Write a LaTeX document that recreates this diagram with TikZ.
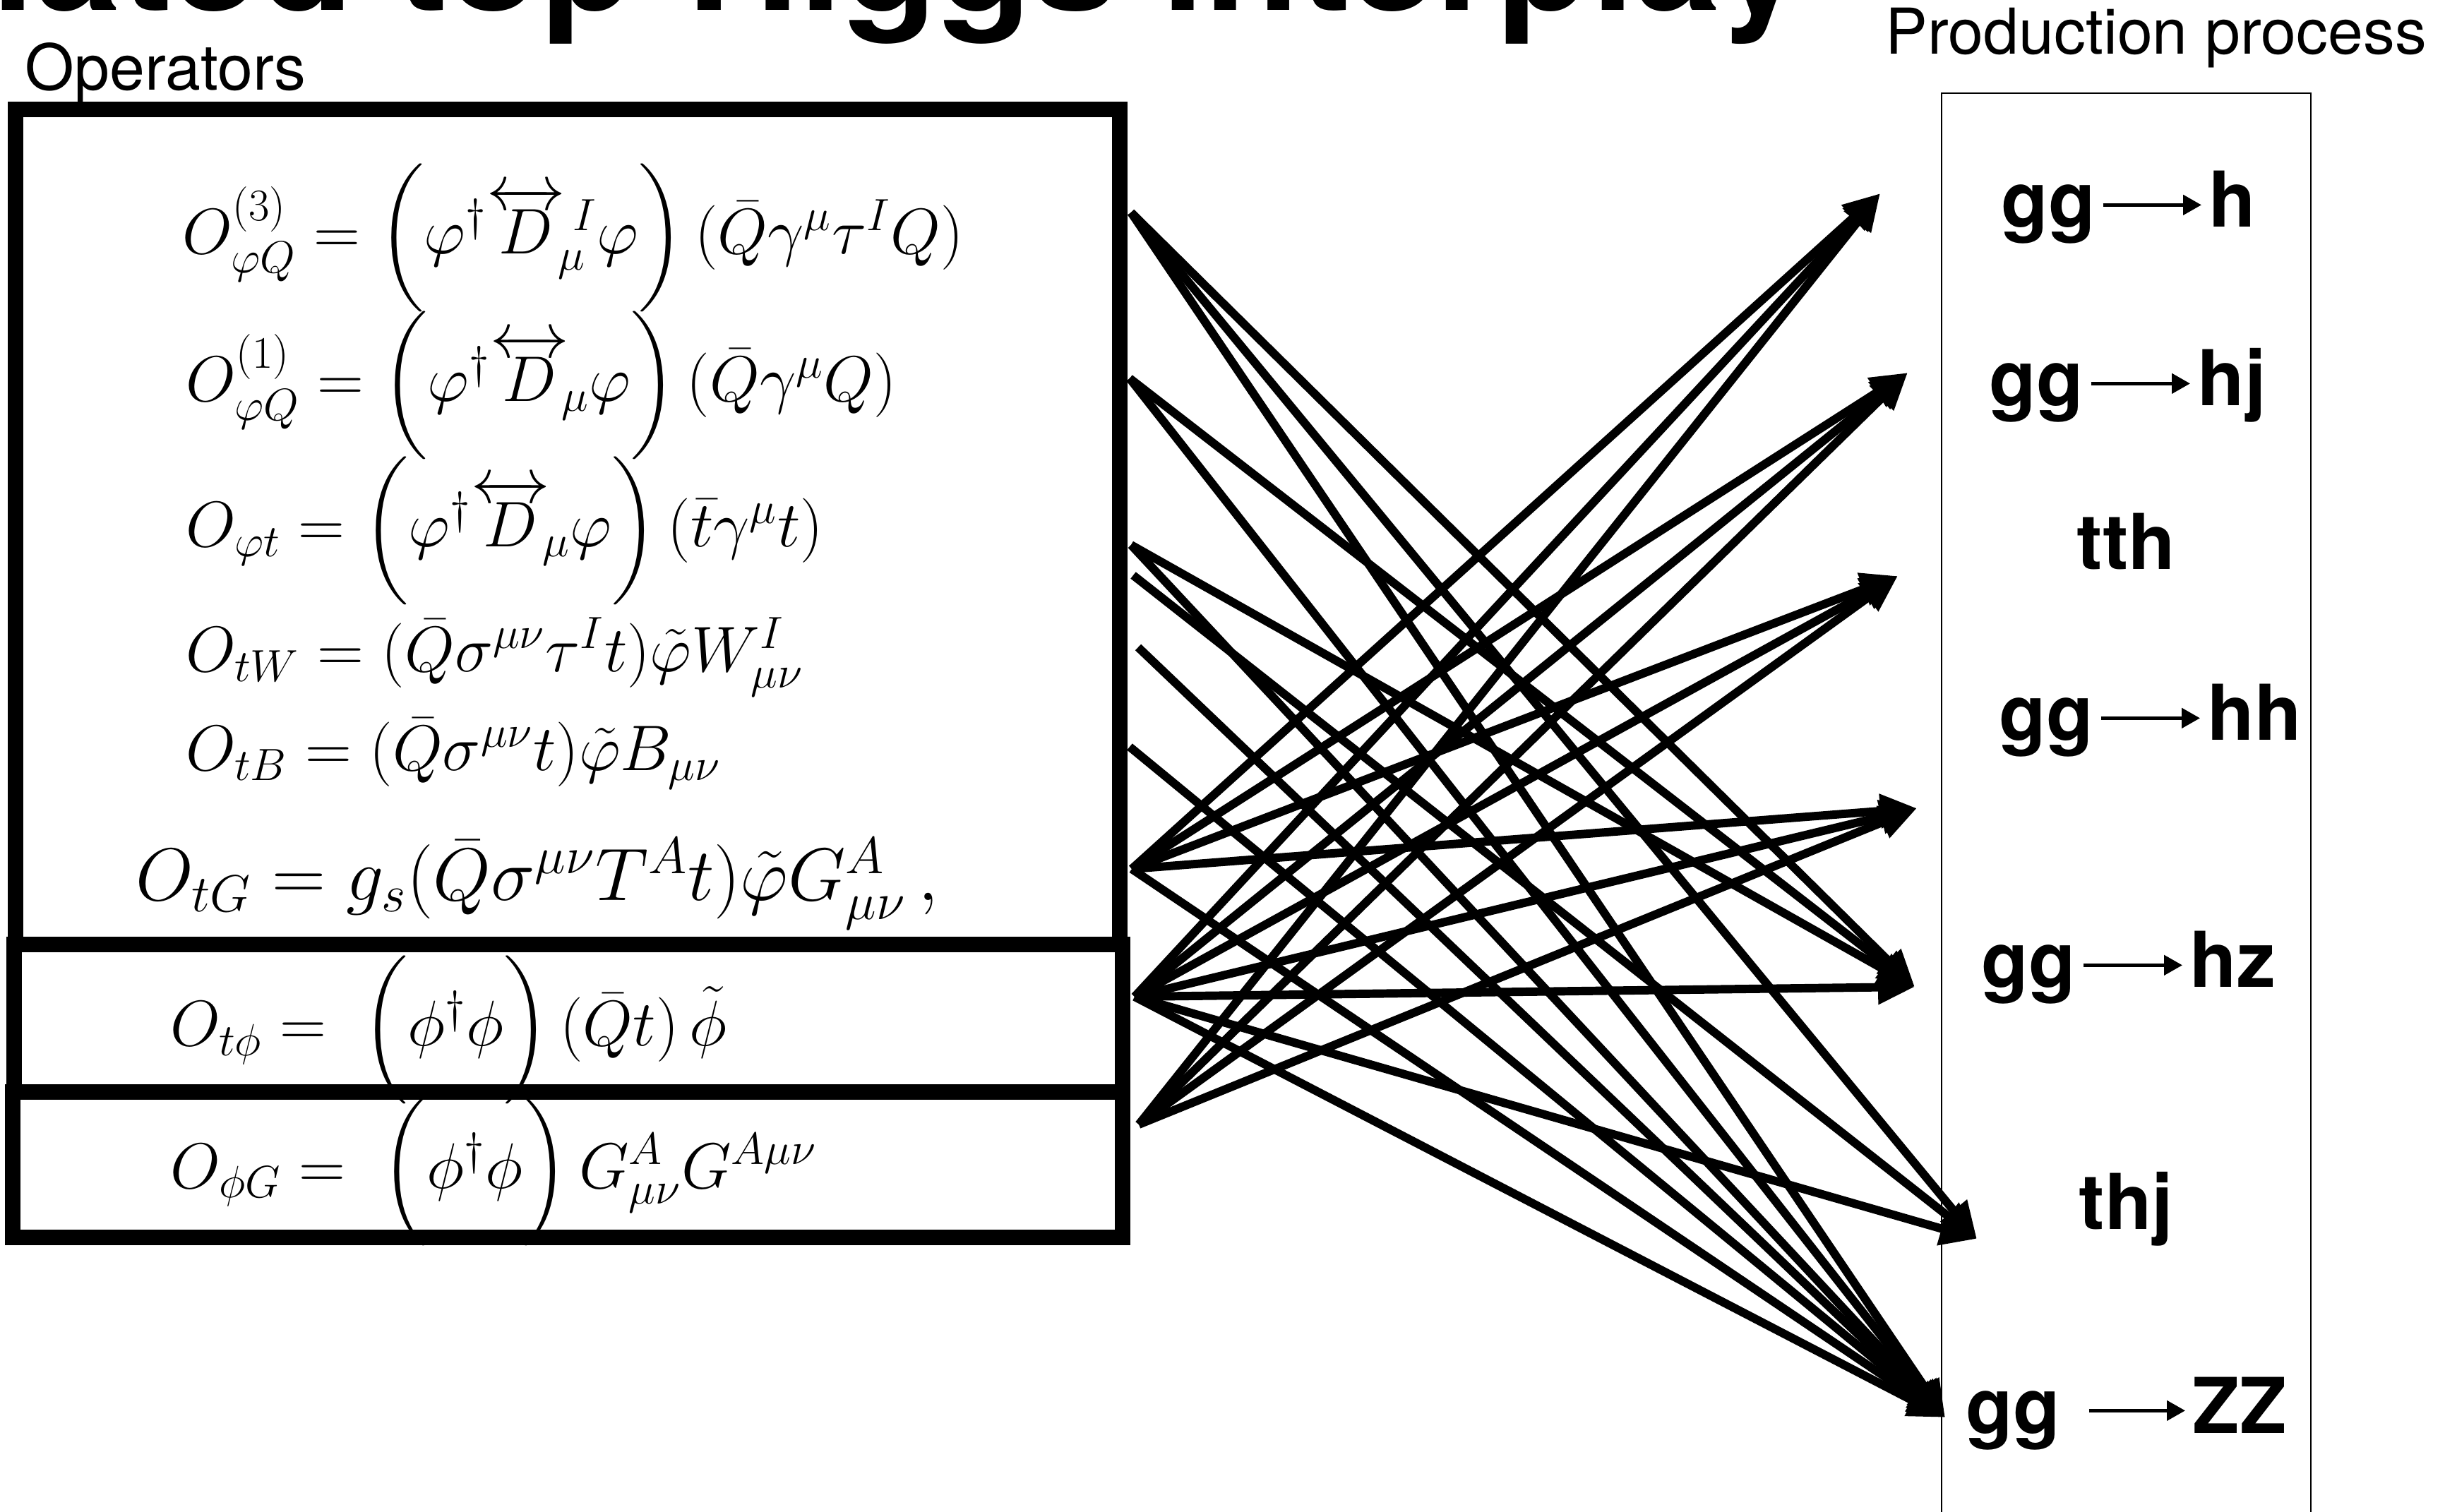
\RequirePackage{fix-cm}
\documentclass[tikz,border=0pt]{standalone}
\usepackage{amsmath}
\usepackage{fontspec}
\newfontfamily\heros{TeX Gyre Heros}
\usetikzlibrary{arrows.meta}

\begin{document}
\begin{tikzpicture}[
    op box/.style={draw=black, line width=6pt},
    process box/.style={draw=black, line width=0.8pt},
    operator/.style={anchor=base west, inner sep=0pt,
        font=\fontsize{26}{32}\selectfont},
    heading/.style={anchor=base west, inner sep=0pt,
        font=\heros\fontsize{25.5}{30}\selectfont},
    process/.style={anchor=base west, inner xsep=1mm, inner ysep=0pt,
        text height=18pt, text depth=0pt,
        font=\heros\bfseries\fontsize{31}{37}\selectfont},
    reaction/.style={draw=black, line width=1.4pt,
        -{Triangle[length=2.6mm,width=2.8mm]}},
    link/.style={draw=black, line width=3.4pt,
        -{Triangle[length=5.2mm,width=4.6mm]}}
]
    \path[use as bounding box] (0,0) rectangle (34.63,21.41);
    \clip (0,0) rectangle (34.63,21.41);

    % Title, cut by the top edge.
    \node[anchor=base west, inner sep=0pt,
        font=\heros\bfseries\fontsize{62.5}{75}\selectfont]
        (title) at (-0.12,21.26) {lated top-Higgs interplay};

    % The operators.
    \node[heading] (ops label) at (0.35,20.13) {Operators};
    \draw[op box] (0.22,19.86) rectangle (15.86,8.03);
    \draw[op box] (0.20,8.03) rectangle (15.90,5.94);
    \draw[op box] (0.18,5.94) rectangle (15.90,3.88);

    \node[operator] (O3) at (2.58,17.81)
        {$O^{(3)}_{\varphi Q} = \biggl(\varphi^\dagger
        \overleftrightarrow{D}^{\,I}_{\!\mu}\varphi\biggr)\,
        (\bar Q\gamma^\mu\tau^I Q)$};
    \node[operator] (O1) at (2.63,15.72)
        {$O^{(1)}_{\varphi Q} = \biggl(\varphi^\dagger
        \overleftrightarrow{D}_{\!\mu}\varphi\biggr)\,
        (\bar Q\gamma^\mu Q)$};
    \node[operator] (Ophit) at (2.63,13.66)
        {$O_{\varphi t} = \biggl(\varphi^\dagger
        \overleftrightarrow{D}_{\!\mu}\varphi\biggr)\,
        (\bar t\gamma^\mu t)$};
    \node[operator] (OtW) at (2.63,11.89)
        {$O_{tW} = (\bar Q\sigma^{\mu\nu}\tau^I t)\tilde\varphi W^I_{\mu\nu}$};
    \node[operator] (OtB) at (2.63,10.49)
        {$O_{tB} = (\bar Q\sigma^{\mu\nu} t)\tilde\varphi B_{\mu\nu}$};
    \node[operator, font=\fontsize{30}{36}\selectfont] (OtG) at (1.92,8.65)
        {$O_{tG} = g_s(\bar Q\sigma^{\mu\nu}T^A t)\tilde\varphi G^A_{\mu\nu}\,,$};
    \node[operator] (Otphi) at (2.41,6.59)
        {$O_{t\phi} = \;\biggl(\phi^\dagger\phi\biggr)\,(\bar Q t)\,\tilde\phi$};
    \node[operator] (OphiG) at (2.41,4.58)
        {$O_{\phi G} = \;\biggl(\phi^\dagger\phi\biggr)\,G^A_{\mu\nu}G^{A\mu\nu}$};

    % The production processes.
    \node[heading] (proc label) at (26.70,20.64) {Production process};
    \draw[process box] (27.50,-0.50) rectangle (32.73,20.09);

    \node[process] (gg1) at (28.24,18.19) {gg};
    \node[process] (h)   at (31.18,18.19) {h};
    \node[process] (gg2) at (28.07,15.66) {gg};
    \node[process] (hj)  at (31.02,15.66) {hj};
    \node[process] (tth) at (29.31,13.34) {tth};
    \node[process] (gg3) at (28.21,10.92) {gg};
    \node[process] (hh)  at (31.16,10.92) {hh};
    \node[process] (gg4) at (27.96,7.42) {gg};
    \node[process] (hz)  at (30.91,7.42) {hz};
    \node[process] (thj) at (29.34,4.00) {thj};
    \node[process] (gg5) at (27.74,1.11) {gg};
    \node[process] (zz)  at (30.95,1.11) {ZZ};

    \draw[reaction] (gg1) -- (h);
    \draw[reaction] (gg2) -- (hj);
    \draw[reaction] (gg3) -- (hh);
    \draw[reaction] (gg4) -- (hz);
    \draw[reaction, shorten <=3mm] (gg5) -- (zz);

    % Where the links leave the operators and reach the processes.
    \coordinate (q3)     at (16.02,18.40);
    \coordinate (q1)     at (16.00,16.05);
    \coordinate (phit-a) at (16.02,13.69);
    \coordinate (phit-b) at (16.05,13.26);
    \coordinate (tw)     at (16.12,12.24);
    \coordinate (tb)     at (16.00,10.83);
    \coordinate (tg)     at (16.03,9.10);
    \coordinate (tphi)   at (16.07,7.29);
    \coordinate (phig)   at (16.13,5.48);

    \coordinate (h-in)   at (26.63,18.67);
    \coordinate (hj-in)  at (27.02,16.13);
    \coordinate (tth-in) at (26.88,13.25);
    \coordinate (hh-in)  at (27.15,9.96);
    \coordinate (hz-in)  at (27.12,7.43);
    \coordinate (thj-in) at (28.00,3.86);
    \coordinate (zz-in)  at (27.55,1.33);

    % Links.
    \draw[link] (q3) -- (hz-in);
    \draw[link] (q3) -- (thj-in);
    \draw[link] (q3) -- (zz-in);
    \draw[link] (q1) -- (hz-in);
    \draw[link] (q1) -- (zz-in);
    \draw[link] (phit-a) -- (hz-in);
    \draw[link] (phit-a) -- (zz-in);
    \draw[link] (phit-b) -- (thj-in);
    \draw[link] (tw) -- (zz-in);
    \draw[link] (tb) -- (zz-in);
    \draw[link] (tg) -- (h-in);
    \draw[link] (tg) -- (hj-in);
    \draw[link] (tg) -- (tth-in);
    \draw[link] (tg) -- (hh-in);
    \draw[link] (tg) -- (zz-in);
    \draw[link] (tphi) -- (h-in);
    \draw[link] (tphi) -- (hj-in);
    \draw[link] (tphi) -- (tth-in);
    \draw[link] (tphi) -- (hh-in);
    \draw[link] (tphi) -- (hz-in);
    \draw[link] (tphi) -- (thj-in);
    \draw[link] (tphi) -- (zz-in);
    \draw[link] (phig) -- (h-in);
    \draw[link] (phig) -- (hj-in);
    \draw[link] (phig) -- (tth-in);
    \draw[link] (phig) -- (hh-in);
\end{tikzpicture}
\end{document}
